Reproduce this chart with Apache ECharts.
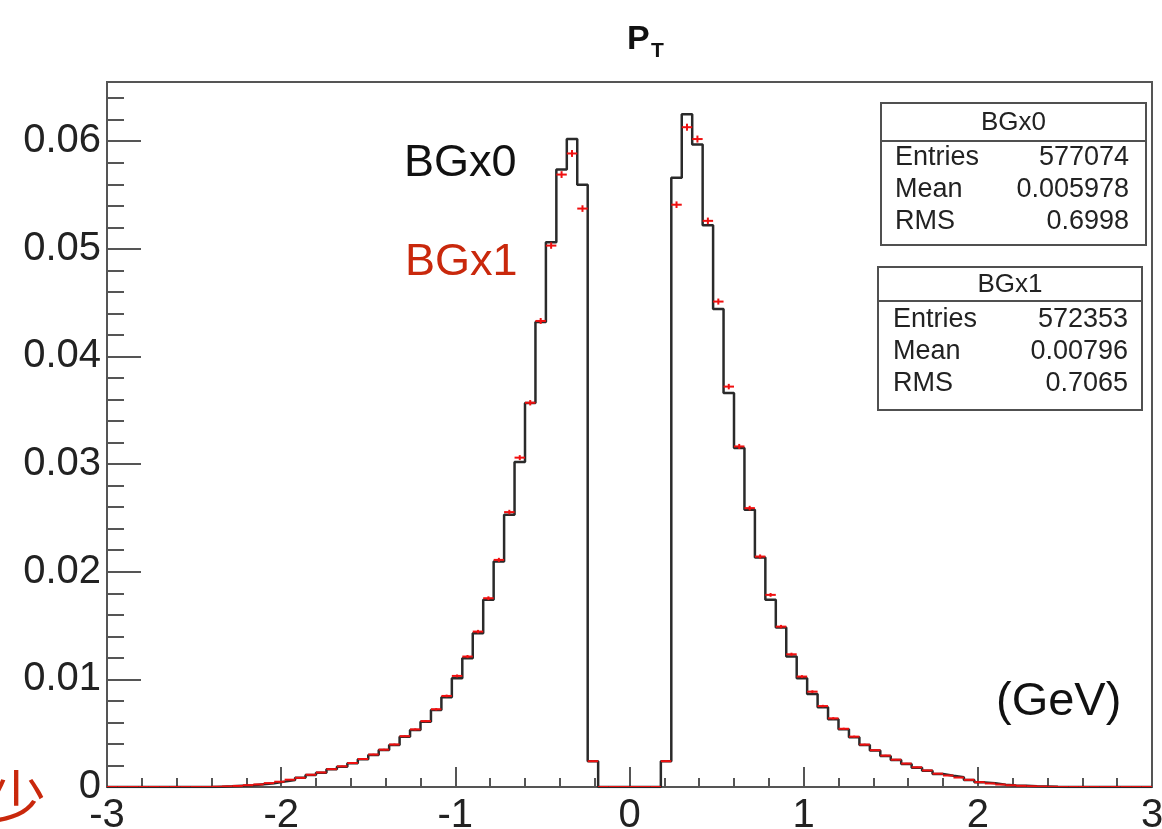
<!DOCTYPE html>
<html>
<head>
<meta charset="utf-8">
<script src="https://cdn.jsdelivr.net/npm/echarts@6/dist/echarts.min.js"></script>
<style>
html,body{margin:0;padding:0;background:#fff;}
#c{width:1162px;height:829px;}
</style>
</head>
<body>
<div id="c"></div>
<script>
// ---- histogram definition ----
const xLow = -3;
const xHigh = 3;
const binWidth = 0.06;

// BGx0 (black histogram), 100 bins from -3 to 3
const bgx0 = [
  0,0,0,0,0,0,0,0,0,0,
  0.00003,0.00006,0.00012,0.00016,0.00025,0.00034,0.00050,0.00065,0.00087,0.00112,
  0.00133,0.00164,0.00189,0.00220,0.00257,0.00298,0.00344,0.00390,0.00468,0.00530,
  0.00607,0.00716,0.00834,0.01011,0.01197,0.01429,0.01739,0.02095,0.02529,0.03020,
  0.03567,0.04320,0.05061,0.05737,0.06020,0.05596,0.00240,0,0,0,
  0,0,0,0.00240,0.05660,0.06250,0.05970,0.05220,0.04440,0.03660,
  0.03150,0.02576,0.02132,0.01739,0.01481,0.01212,0.01011,0.00865,0.00740,0.00630,
  0.00536,0.00462,0.00390,0.00338,0.00288,0.00251,0.00214,0.00180,0.00152,0.00121,
  0.00105,0.00090,0.00065,0.00043,0.00034,0.00022,0.00015,0.00012,0.00008,0.00005,
  0.00002,0,0,0,0,0,0,0,0,0
];
// BGx1 (red points with error bars)
const bgx1 = [
  0,0,0,0,0,0,0,0,0,0,
  0.00002,0.00005,0.00010,0.00017,0.00024,0.00036,0.00049,0.00068,0.00085,0.00114,
  0.00135,0.00166,0.00192,0.00223,0.00260,0.00302,0.00347,0.00395,0.00472,0.00535,
  0.00612,0.00722,0.00846,0.01032,0.01212,0.01444,0.01754,0.02110,0.02554,0.03060,
  0.03570,0.04330,0.05030,0.05690,0.05886,0.05374,0.00240,0,0,0,
  0,0,0,0.00240,0.05410,0.06130,0.06020,0.05260,0.04510,0.03720,
  0.03164,0.02591,0.02141,0.01785,0.01490,0.01233,0.01026,0.00886,0.00752,0.00638,
  0.00541,0.00468,0.00394,0.00342,0.00292,0.00254,0.00218,0.00183,0.00154,0.00124,
  0.00107,0.00088,0.00067,0.00045,0.00033,0.00023,0.00016,0.00011,0.00007,0.00004,
  0.00002,0,0,0,0,0,0,0,0,0
];

const yTickValues = [0,0.01,0.02,0.03,0.04,0.05,0.06];
const yTickLabels = ['0','0.01','0.02','0.03','0.04','0.05','0.06'];
const xTickLabels = ['-3','-2','-1','0','1','2','3'];
const yMax = 0.0655;

const statsNames = ['BGx0','BGx1'];
const statsEntries = ['577074','572353'];
const statsMean = ['0.005978','0.00796'];
const statsRMS = ['0.6998','0.7065'];
const entriesBGx1 = 572353;

// ---- build series data ----
const blackStep = bgx0.map((v,k)=>[xLow + k*binWidth, v]);
blackStep.push([xHigh, bgx0[bgx0.length-1]]);
const redPts = bgx1.map((v,k)=>[xLow + (k+0.5)*binWidth, v]);

const FONT = "'Liberation Sans', Arial, Helvetica, sans-serif";
const AX = '#555';

const chart = echarts.init(document.getElementById('c'), null, {renderer:'canvas'});

function statsBox(i, x, y, w, h, hdrH, labelX, valueX, rowYs){
  const els = [
    {type:'rect', shape:{x:x, y:y, width:w, height:h}, style:{fill:'#fff', stroke:'#505050', lineWidth:2}, z:10},
    {type:'line', shape:{x1:x, y1:y+hdrH, x2:x+w, y2:y+hdrH}, style:{stroke:'#505050', lineWidth:2}, z:11},
    {type:'text', x:x+w/2, y:y+hdrH/2+1, style:{text:statsNames[i], font:'26px '+FONT, fill:'#222', align:'center', verticalAlign:'middle'}, z:11}
  ];
  const labels = ['Entries','Mean','RMS'];
  const vals = [statsEntries[i], statsMean[i], statsRMS[i]];
  for(let r=0;r<3;r++){
    els.push({type:'text', x:labelX, y:rowYs[r], style:{text:labels[r], font:'27px '+FONT, fill:'#222', align:'left', verticalAlign:'middle'}, z:11});
    els.push({type:'text', x:valueX, y:rowYs[r], style:{text:vals[r], font:'27px '+FONT, fill:'#222', align:'right', verticalAlign:'middle'}, z:11});
  }
  return els;
}

const graphics = [
  {type:'text', x:627, y:40, style:{text:'P', font:'bold 34px '+FONT, fill:'#111', align:'left', verticalAlign:'middle'}},
  {type:'text', x:651, y:51, style:{text:'T', font:'bold 21px '+FONT, fill:'#111', align:'left', verticalAlign:'middle'}},
  {type:'text', x:404, y:164, style:{text:'BGx0', font:'45px '+FONT, fill:'#111', align:'left', verticalAlign:'middle'}, z:5},
  {type:'text', x:405, y:263, style:{text:'BGx1', font:'45px '+FONT, fill:'#c9280c', align:'left', verticalAlign:'middle'}, z:5},
  {type:'text', x:996, y:702, style:{text:'(GeV)', font:'47px '+FONT, fill:'#111', align:'left', verticalAlign:'middle'}, z:5},
  {type:'text', x:-12, y:797, style:{text:'少', font:"58px 'Noto Sans CJK SC'", fill:'#c9280c', align:'left', verticalAlign:'middle'}, z:5}
].concat(
  statsBox(0, 881, 103, 265, 142, 38, 895, 1129, [158,190,222]),
  statsBox(1, 878, 267, 264, 143, 34, 893, 1128, [320,352,384])
);

const option = {
  animation:false,
  backgroundColor:'#fff',
  grid:{left:107, right:10, top:82, bottom:42, containLabel:false, outerBoundsMode:'none',
        show:true, borderColor:AX, borderWidth:2, backgroundColor:'transparent'},
  xAxis:[{
    type:'value', min:xLow, max:xHigh, interval:1,
    axisLine:{onZero:false, lineStyle:{color:AX, width:2}},
    axisTick:{inside:true, length:20, lineStyle:{color:AX, width:2}},
    minorTick:{show:true, splitNumber:5, length:9, lineStyle:{color:AX, width:2}},
    splitLine:{show:false},
    axisLabel:{fontSize:40, fontFamily:FONT, color:'#222', margin:9, hideOverlap:false,
      formatter:(v)=>{const i=Math.round(v-xLow); return xTickLabels[i]!==undefined?xTickLabels[i]:'';}}
  }],
  yAxis:[{
    type:'value', min:0, max:yMax, interval:0.01, position:'left',
    axisLine:{show:true, onZero:false, lineStyle:{color:AX, width:2}},
    axisTick:{inside:true, length:34, lineStyle:{color:AX, width:2}},
    splitLine:{show:false},
    axisLabel:{fontSize:40, fontFamily:FONT, color:'#222', margin:6, showMaxLabel:false,
      formatter:(v)=>{for(let i=0;i<yTickValues.length;i++){if(Math.abs(v-yTickValues[i])<1e-9) return yTickLabels[i];} return '';}}
  },{
    type:'value', min:0, max:yMax, interval:0.002, position:'left', offset:0,
    axisLine:{show:false, onZero:false},
    axisTick:{show:true, inside:true, length:17, lineStyle:{color:AX, width:2}},
    axisLabel:{show:false},
    splitLine:{show:false}
  }],
  series:[{
    name:'BGx0', type:'line', step:'end', data:blackStep, showSymbol:false, symbol:'none',
    lineStyle:{color:'#2a2a2a', width:2.5}, z:3, clip:true
  },{
    name:'BGx1', type:'custom', data:redPts, z:4, clip:true,
    renderItem:(params, api)=>{
      const c = api.value(0), v = api.value(1);
      const a = api.coord([c - binWidth/2, v]);
      const b = api.coord([c + binWidth/2, v]);
      const e = Math.sqrt(v/entriesBGx1);
      const t = api.coord([c, v + e]);
      const u = api.coord([c, v - e]);
      const st = {stroke:'#f01010', lineWidth:2};
      return {type:'group', children:[
        {type:'line', shape:{x1:a[0], y1:a[1], x2:b[0], y2:b[1]}, style:st},
        {type:'line', shape:{x1:t[0], y1:t[1], x2:u[0], y2:u[1]}, style:st}
      ]};
    }
  }],
  graphic:graphics
};
chart.setOption(option);
</script>
</body>
</html>
